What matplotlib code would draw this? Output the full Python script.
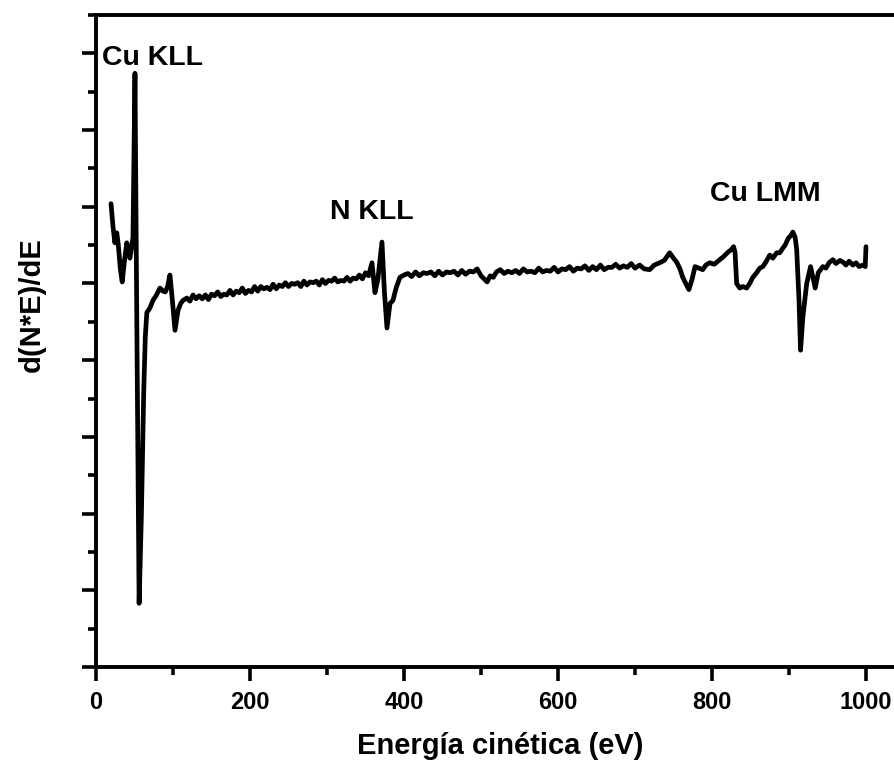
import matplotlib
matplotlib.use("Agg")
import matplotlib.pyplot as plt
from matplotlib.ticker import MultipleLocator

plt.rcParams['font.family'] = ['Liberation Sans', 'DejaVu Sans']
plt.rcParams['font.weight'] = 'bold'

energy = [19.5, 22, 24.5, 27, 29, 31.5, 34, 37, 40, 42, 44, 46, 48, 50.6, 53, 56, 59, 62, 64, 66,
          70, 74, 78, 83, 87, 90, 93, 96, 99, 102.6, 106.5, 110, 113,
          118, 122, 126, 130, 134, 138, 142, 146, 150, 154, 158, 162, 166, 170, 174, 178, 182, 186,
          190, 194, 198, 202, 206, 210, 214, 218, 222, 226, 230, 234, 238, 242, 246, 250, 254, 258,
          262, 266, 270, 274, 278, 282, 286, 290, 294, 298, 302, 306, 310, 314, 318, 322, 326, 330,
          334, 338, 342, 346, 350, 354, 358.4, 362.3, 366, 371.4, 374.5, 377.9, 381.8, 385.7, 390, 394.8,
          400, 405, 410, 415, 420, 425, 430, 435, 440, 445, 450, 455, 460, 465, 470, 475, 480, 485,
          490, 495, 500, 504, 508, 512, 516, 520, 525, 530, 535, 540, 545, 550, 555, 560, 565, 570,
          575, 580, 585, 590, 595, 600, 605, 610, 615, 620, 625, 630, 635, 640, 645, 650, 655, 660,
          665, 670, 675, 680, 685, 690, 695, 700, 706, 712, 719, 725, 732, 738, 745, 750, 754, 758,
          762, 766, 770, 774, 778, 783, 788, 792, 797, 803, 810, 815, 821, 825, 828, 830, 832, 836,
          840, 845, 849, 853, 858, 862, 866, 870, 875, 879, 884, 888, 892, 895, 899, 902, 905, 908,
          910, 913, 915, 918, 923, 928, 931, 934, 938, 944, 948, 952, 957, 961, 966, 970, 974, 978,
          983, 987, 991, 996, 999, 1000]
signal = [6.04, 5.75, 5.53, 5.66, 5.50, 5.20, 5.02, 5.30, 5.53, 5.45, 5.33, 5.45, 5.60, 7.74, 4.50, 0.83, 2.00, 3.60, 4.30, 4.62,
          4.68, 4.78, 4.84, 4.94, 4.90, 4.89, 4.96, 5.11, 4.80, 4.39, 4.65, 4.74, 4.78,
          4.81, 4.77, 4.85, 4.80, 4.84, 4.80, 4.85, 4.79, 4.86, 4.84, 4.89, 4.83, 4.86, 4.85, 4.91, 4.85, 4.90, 4.88,
          4.94, 4.87, 4.91, 4.89, 4.96, 4.90, 4.96, 4.93, 4.95, 4.92, 4.99, 4.93, 4.98, 4.96, 5.01, 4.96, 5.00, 4.99,
          5.01, 4.96, 5.03, 4.98, 5.02, 5.01, 5.03, 4.98, 5.05, 5.00, 5.04, 5.03, 5.07, 5.02, 5.04, 5.03, 5.08, 5.03,
          5.07, 5.06, 5.11, 5.06, 5.14, 5.10, 5.27, 4.88, 5.05, 5.54, 4.90, 4.42, 4.74, 4.78, 4.95, 5.08,
          5.11, 5.13, 5.09, 5.15, 5.10, 5.14, 5.13, 5.15, 5.10, 5.16, 5.11, 5.15, 5.14, 5.16, 5.11, 5.17, 5.12, 5.16,
          5.15, 5.19, 5.10, 5.06, 5.02, 5.10, 5.08, 5.15, 5.18, 5.13, 5.16, 5.14, 5.17, 5.13, 5.19, 5.15, 5.16, 5.14,
          5.20, 5.15, 5.17, 5.16, 5.21, 5.15, 5.19, 5.18, 5.22, 5.16, 5.20, 5.19, 5.23, 5.17, 5.22, 5.18, 5.24, 5.18,
          5.21, 5.21, 5.25, 5.20, 5.23, 5.21, 5.26, 5.20, 5.24, 5.19, 5.18, 5.24, 5.27, 5.30, 5.40, 5.33, 5.28, 5.20,
          5.08, 5.00, 4.92, 5.05, 5.22, 5.20, 5.18, 5.24, 5.27, 5.25, 5.31, 5.35, 5.41, 5.44, 5.48, 5.40, 5.00, 4.94,
          4.96, 4.94, 5.00, 5.08, 5.14, 5.20, 5.22, 5.28, 5.37, 5.33, 5.40, 5.40, 5.46, 5.50, 5.59, 5.62, 5.67, 5.60,
          5.44, 4.78, 4.13, 4.56, 5.00, 5.22, 5.08, 4.94, 5.14, 5.22, 5.20, 5.27, 5.31, 5.26, 5.30, 5.28, 5.24, 5.29,
          5.24, 5.27, 5.22, 5.24, 5.22, 5.48]

x_ticks = [0, 200, 400, 600, 800, 1000]
peak_labels = ["Cu KLL", "N KLL", "Cu LMM"]
peak_label_x = [8, 358, 869]
peak_label_y = [7.94, 5.93, 6.17]

fig = plt.figure(figsize=(8.95, 7.65), dpi=100)
ax = fig.add_axes([96 / 895, 98 / 765, 808.5 / 895, 652 / 765])
ax.plot(energy, signal, color='black', lw=3.4, solid_joinstyle='round', solid_capstyle='round')

ax.set_xlim(0, 1050)
ax.set_ylim(0, 8.5)
ax.set_xticks(x_ticks)
ax.set_xticklabels([str(t) for t in x_ticks], fontsize=17, fontweight='bold')
ax.xaxis.set_minor_locator(MultipleLocator(100))
ax.yaxis.set_major_locator(MultipleLocator(1))
ax.yaxis.set_minor_locator(MultipleLocator(0.5))
ax.set_yticklabels([])
ax.tick_params(which='major', direction='out', length=10, width=2.6, pad=7)
ax.tick_params(which='minor', direction='out', length=6, width=2.6)
for s in ['left', 'bottom', 'top']:
    ax.spines[s].set_linewidth(2.8)
ax.spines['right'].set_visible(False)

for lab, lx, ly in zip(peak_labels, peak_label_x, peak_label_y):
    ax.text(lx, ly, lab, fontsize=20.5, fontweight='bold', ha='left' if lab == "Cu KLL" else 'center',
            va='center')

ax.set_xlabel("Energía cinética (eV)", fontsize=21, fontweight='bold', labelpad=13)
fig.text(32 / 895, 1 - 305 / 765, "d(N*E)/dE", rotation=90, fontsize=21, fontweight='bold',
         ha='center', va='center')

fig.savefig("out.png", dpi=100)
